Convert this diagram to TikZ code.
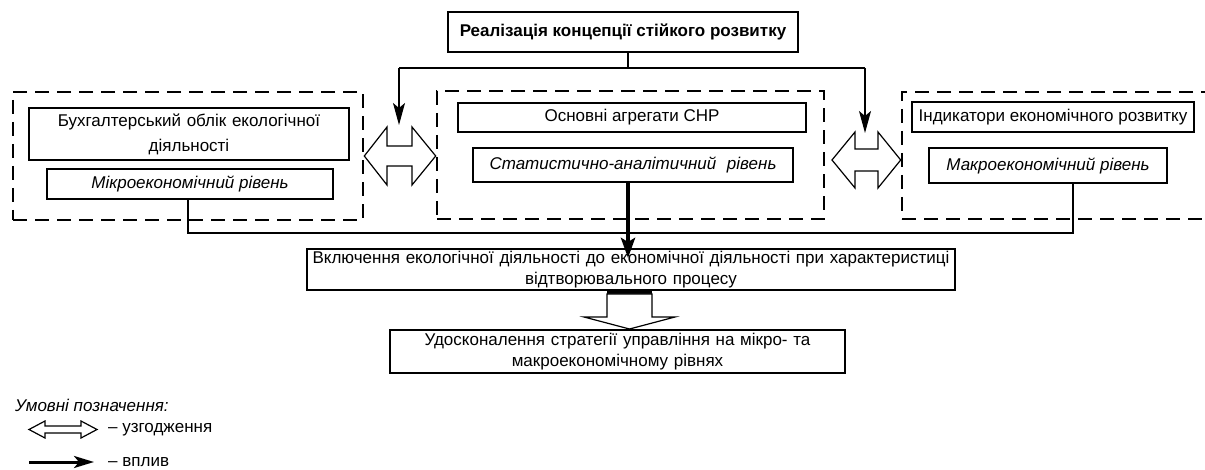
\documentclass[tikz,border=0pt]{standalone}
\usepackage{fontspec}
\setmainfont{Liberation Sans}
\usetikzlibrary{arrows.meta,calc}

\tikzset{
  x=1pt, y=-1pt,
  box/.style={draw, line width=1.2pt, inner sep=0pt, align=center,
    font=\fontsize{17}{21}\selectfont},
  group/.style={draw, line width=2.6pt, dash pattern=on 14pt off 8pt},
  link/.style={line width=1.2pt},
  push/.style={line width=1.3pt, -{Stealth[length=22pt,width=12pt,inset=5pt]}},
  hollow/.style={draw, line width=1.2pt, fill=white, line join=miter},
  note/.style={inner sep=0pt, anchor=west, font=\fontsize{17}{20}\selectfont}
}

\begin{document}
\begin{tikzpicture}
\useasboundingbox (0,0) rectangle (1205,470);
\begin{scope}
\clip (0,0) rectangle (1205,470);

% top-level goal
\node[box, minimum width=350, minimum height=40, font=\fontsize{17}{21}\selectfont\bfseries]
  (goal) at (623,32) {Реалізація концепції стійкого розвитку};

% three dashed groups
\node[group, minimum width=350, minimum height=128] (gL) at (188,156) {};
\node[group, minimum width=387, minimum height=128] (gM) at (630.5,155) {};
\node[group, minimum width=313, minimum height=127] (gR) at (1058.5,155.5) {};

% left group
\node[box, minimum width=320, minimum height=52, text width=318,
      font=\fontsize{17}{25}\selectfont] (L1) at (189,134)
  {Бухгалтерський облік екологічної\\діяльності};
\node[box, minimum width=286, minimum height=30, font=\fontsize{17}{21}\selectfont\itshape]
  (L2) at (190,184) {Мікроекономічний рівень};

% middle group
\node[box, minimum width=348, minimum height=29] (M1) at (632,117.5) {Основні агрегати СНР};
\node[box, minimum width=320, minimum height=34, font=\fontsize{17}{21}\selectfont\itshape]
  (M2) at (633,165) {Статистично-аналітичний\hspace{0.35em} рівень};

% right group
\node[box, minimum width=282, minimum height=30] (R1) at (1053,117) {Індикатори економічного розвитку};
\node[box, minimum width=238, minimum height=35, font=\fontsize{17}{21}\selectfont\itshape]
  (R2) at (1048,165.5) {Макроекономічний рівень};

% outcome boxes
\node[box, minimum width=648, minimum height=41, text width=646] (V) at (631,269.5)
  {Включення екологічної діяльності до економічної діяльності при характеристиці\\відтворювального процесу};
\node[box, minimum width=455, minimum height=43, text width=453] (U) at (617.5,351.5)
  {Удосконалення стратегії управління на мікро- та\\макроекономічному рівнях};

% goal distribution bus
\coordinate (busL) at (399,68);
\coordinate (busR) at (865,68);
\coordinate (tipL) at (399,125);
\coordinate (tipR) at (865,133);
\draw[link] ($(goal.south)+(5,0)$) -- ($(goal.south)+(5,16)$);
\draw[link] (busL) -- (busR);
\draw[push] (busL) -- (tipL);
\draw[push] (busR) -- (tipR);

% coordination arrows between groups
\draw[hollow] (gL.east |- 0,156) -- (387,127) -- (387,146) -- (412,146) -- (412,127)
  -- (gM.west |- 0,156) -- (412,185) -- (412,166) -- (387,166) -- (387,185) -- cycle;
\draw[hollow] (832,160) -- (855,132) -- (855,149) -- (878,149) -- (878,132)
  -- (gR.west |- 0,160) -- (878,188) -- (878,171) -- (855,171) -- (855,188) -- cycle;

% collecting bus from micro and macro levels
\coordinate (cL) at (188,233);
\coordinate (cR) at (1073,233);
\draw[link] (L2.south -| cL) -- (cL) -- (cR) -- (R2.south -| cR);

% statistical level into the outcome
\draw[line width=4pt, -{Stealth[length=20pt,width=14pt,inset=4pt]}]
  (M2.south -| 628,0) -- (628,258);

% hollow arrow between outcome boxes
\fill (607,289.5) rectangle (652,295);
\draw[hollow] (607,294) -- (652,294) -- (652,317) -- (675,317) -- (629.5,329)
  -- (584,317) -- (607,317) -- cycle;
\end{scope}

% legend
\node[note, font=\fontsize{17}{20}\selectfont\itshape] (lgT) at (15,405) {Умовні позначення:};
\draw[hollow] (29,429.5) -- (45,421) -- (45,426) -- (81,426) -- (81,421) -- (97,429.5)
  -- (81,438) -- (81,433) -- (45,433) -- (45,438) -- cycle;
\node[note] (lgD) at (108,430) {– узгодження};
\coordinate (lgS) at (29,462);
\coordinate (lgE) at (94,462);
\draw[line width=3pt, -{Stealth[length=20pt,width=12pt,inset=5pt]}] (lgS) -- (lgE);
\node[note] (lgI) at (108,462) {– вплив};
\end{tikzpicture}
\end{document}
